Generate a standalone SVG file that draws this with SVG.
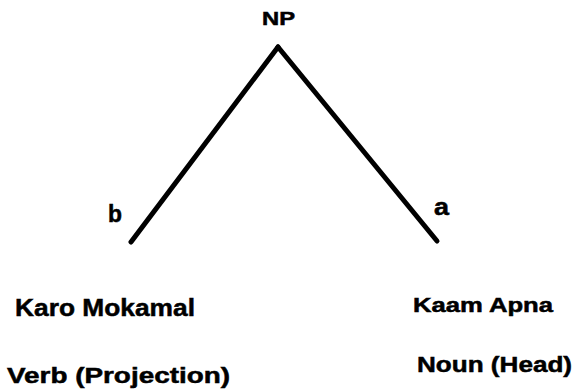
<svg xmlns="http://www.w3.org/2000/svg" width="575" height="390" viewBox="0 0 575 390">
<style>
text{font-family:"Liberation Sans",Arial,sans-serif;font-weight:bold;fill:#000;stroke:#000;stroke-width:0.5}
.e{stroke:#000;stroke-width:5;stroke-linecap:round;fill:none}
</style>
<rect width="575" height="390" fill="#fff"/>
<g id="connectors">
<line class="e" x1="278" y1="47" x2="131" y2="242"/>
<line class="e" x1="278" y1="47" x2="437" y2="241"/>
</g>
<g id="np"><text x="262" y="25" font-size="18" textLength="33" lengthAdjust="spacingAndGlyphs">NP</text></g>
<g id="b"><text x="108" y="222" font-size="23" textLength="14" lengthAdjust="spacingAndGlyphs">b</text></g>
<g id="a"><text x="434" y="215" font-size="23" textLength="15" lengthAdjust="spacingAndGlyphs">a</text></g>
<g id="karo"><text x="15" y="316" font-size="24" textLength="180" lengthAdjust="spacingAndGlyphs">Karo Mokamal</text></g>
<g id="verb"><text x="7" y="383" font-size="22" textLength="223" lengthAdjust="spacingAndGlyphs">Verb (Projection)</text></g>
<g id="kaam"><text x="413" y="312" font-size="20" textLength="140" lengthAdjust="spacingAndGlyphs">Kaam Apna</text></g>
<g id="noun"><text x="417" y="372" font-size="22" textLength="155" lengthAdjust="spacingAndGlyphs">Noun (Head)</text></g>
</svg>
